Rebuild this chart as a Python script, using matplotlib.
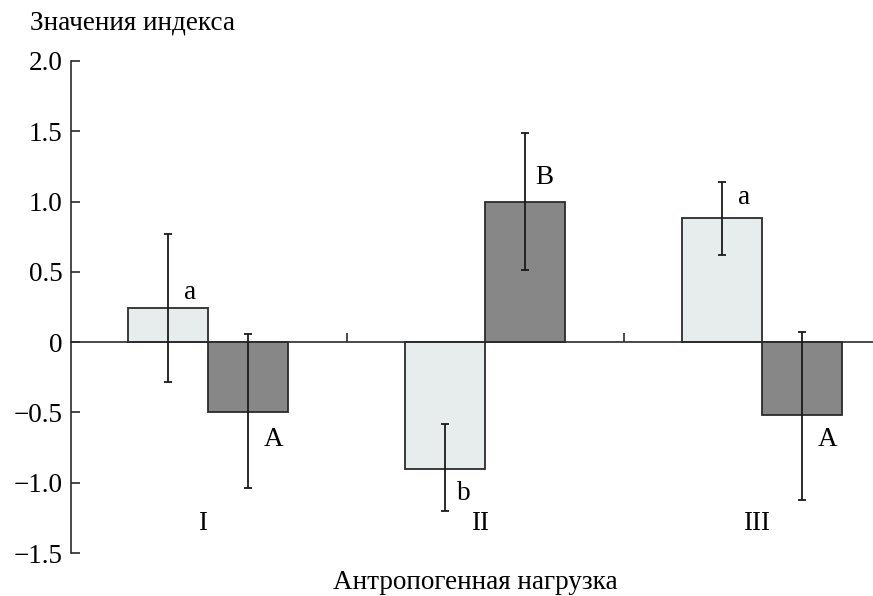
import matplotlib.pyplot as plt
import numpy as np

plt.rcParams['font.family'] = ['Liberation Serif', 'DejaVu Serif']

groups = ['I', 'II', 'III']
light_vals = [0.24, -0.90, 0.88]
light_err_hi = [0.77, -0.58, 1.14]
light_err_lo = [-0.28, -1.20, 0.62]
dark_vals = [-0.50, 1.00, -0.52]
dark_err_hi = [0.06, 1.49, 0.07]
dark_err_lo = [-1.04, 0.51, -1.12]
light_marks = ['a', 'b', 'a']
dark_marks = ['A', 'B', 'A']

x = np.arange(len(groups))
w = 0.289

fig = plt.figure(figsize=(8.73, 5.96), dpi=100)
ax = fig.add_axes([0.0813, 0.0721, 0.9187, 0.8256])

lv = np.array(light_vals)
dv = np.array(dark_vals)
l_err = [lv - np.array(light_err_lo), np.array(light_err_hi) - lv]
d_err = [dv - np.array(dark_err_lo), np.array(dark_err_hi) - dv]

ax.bar(x - w / 2, lv, w, color='#e7edec', edgecolor='#2b2b2b', linewidth=1.3, zorder=2)
ax.bar(x + w / 2, dv, w, color='#878787', edgecolor='#2b2b2b', linewidth=1.3, zorder=2)
ax.errorbar(x - w / 2, lv, yerr=l_err, fmt='none', ecolor='#1a1a1a',
            elinewidth=1.3, capsize=2.8, capthick=1.3, zorder=3)
ax.errorbar(x + w / 2, dv, yerr=d_err, fmt='none', ecolor='#1a1a1a',
            elinewidth=1.3, capsize=2.8, capthick=1.3, zorder=3)

# significance letters
fs = 19.5
ax.text(x[0] - w / 2 + 0.08, 0.35, light_marks[0], fontsize=fs, ha='center', va='center')
ax.text(x[0] + w / 2 + 0.09, -0.69, dark_marks[0], fontsize=fs, ha='center', va='center')
ax.text(x[1] - w / 2 + 0.065, -1.08, light_marks[1], fontsize=fs, ha='center', va='center')
ax.text(x[1] + w / 2 + 0.07, 1.17, dark_marks[1], fontsize=fs, ha='center', va='center')
ax.text(x[2] - w / 2 + 0.08, 1.03, light_marks[2], fontsize=fs, ha='center', va='center')
ax.text(x[2] + w / 2 + 0.09, -0.69, dark_marks[2], fontsize=fs, ha='center', va='center')

# group labels
for xi, g in zip(x, groups):
    ax.text(xi - 0.02, -1.29, g, fontsize=fs, ha='center', va='center')

ax.set_xlim(-0.496, 2.4)
ax.set_ylim(-1.5, 2.0)
ax.spines['top'].set_visible(False)
ax.spines['right'].set_visible(False)
ax.spines['bottom'].set_position(('data', 0))
for s in ax.spines.values():
    s.set_linewidth(1.2)
    s.set_color('#2b2b2b')

ax.set_xticks([0.5, 1.5])
ax.set_xticklabels([])
ax.set_yticks([-1.5, -1.0, -0.5, 0, 0.5, 1.0, 1.5, 2.0])
ax.set_yticklabels(['\u22121.5', '\u22121.0', '\u22120.5', '0', '0.5', '1.0', '1.5', '2.0'])
ax.tick_params(axis='both', direction='in', length=6.5, width=1.2, color='#2b2b2b',
               labelsize=fs, pad=6)

fig.text(0.034, 0.962, 'Значения индекса', fontsize=fs, ha='left', va='center')
fig.text(0.545, 0.022, 'Антропогенная нагрузка', fontsize=fs, ha='center', va='center')

fig.savefig('out.png', dpi=100)
